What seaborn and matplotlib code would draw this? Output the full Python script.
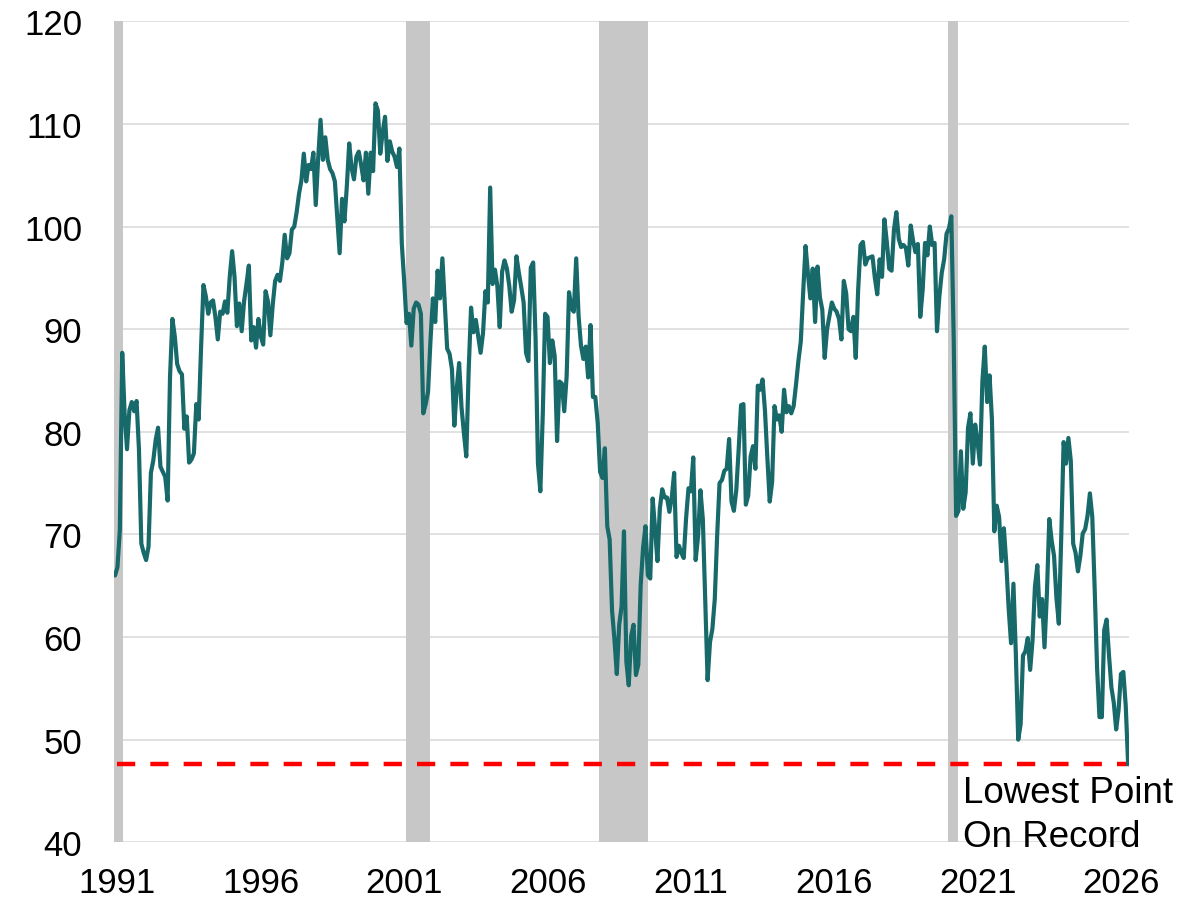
import numpy as np
import pandas as pd
import matplotlib
matplotlib.use("Agg")
import matplotlib.pyplot as plt
import seaborn as sns

# Monthly index, first month = Dec 1990
start_year, start_month = 1990, 12

sentiment_1990s = [
    66.0,
    66.8, 70.4, 87.7, 81.8, 78.3, 82.1, 82.9, 82.0, 83.0, 78.3, 69.1, 68.2,
    67.5, 68.8, 76.0, 77.2, 79.2, 80.4, 76.6, 76.1, 75.6, 73.3, 85.3, 91.0,
    89.3, 86.6, 85.9, 85.6, 80.3, 81.5, 77.0, 77.3, 77.9, 82.7, 81.2, 88.2,
    94.3, 93.2, 91.5, 92.6, 92.8, 91.2, 89.0, 91.7, 91.5, 92.7, 91.6, 95.1,
    97.6, 95.1, 90.3, 92.5, 89.8, 92.7, 94.4, 96.2, 88.9, 90.2, 88.2, 91.0,
    89.3, 88.5, 93.7, 92.7, 89.4, 92.4, 94.7, 95.3, 94.7, 96.5, 99.2, 96.9,
    97.4, 99.7, 100.0, 101.4, 103.2, 104.5, 107.1, 104.4, 106.0, 105.6, 107.2, 102.1,
    106.6, 110.4, 106.5, 108.7, 106.5, 105.6, 105.2, 104.4, 100.9, 97.4, 102.7, 100.5,
    103.9, 108.1, 105.7, 104.6, 106.8, 107.3, 106.0, 104.5, 107.2, 103.2, 107.2, 105.4,
]
sentiment_2000s = [
    112.0, 111.3, 107.1, 109.2, 110.7, 106.4, 108.3, 107.3, 106.8, 105.8, 107.6, 98.4,
    94.7, 90.6, 91.5, 88.4, 92.0, 92.6, 92.4, 91.5, 81.8, 82.7, 83.9, 88.8,
    93.0, 90.7, 95.7, 93.0, 96.9, 92.4, 88.1, 87.6, 86.1, 80.6, 84.2, 86.7,
    82.4, 79.9, 77.6, 86.0, 92.1, 89.7, 90.9, 89.3, 87.7, 89.6, 93.7, 92.6,
    103.8, 94.4, 95.8, 94.2, 90.2, 95.6, 96.7, 95.9, 94.2, 91.7, 92.8, 97.1,
    95.5, 94.1, 92.6, 87.7, 86.9, 96.0, 96.5, 89.1, 76.9, 74.2, 81.6, 91.5,
    91.2, 86.7, 88.9, 87.4, 79.1, 84.9, 84.7, 82.0, 85.4, 93.6, 92.1, 91.7,
    96.9, 91.3, 88.4, 87.1, 88.3, 85.3, 90.4, 83.4, 83.4, 80.9, 76.1, 75.5,
    78.4, 70.8, 69.5, 62.6, 59.8, 56.4, 61.2, 63.0, 70.3, 57.6, 55.3, 60.1,
    61.2, 56.3, 57.3, 65.1, 68.7, 70.8, 66.0, 65.7, 73.5, 70.6, 67.4, 72.5,
]
sentiment_2010s = [
    74.4, 73.6, 73.6, 72.2, 73.6, 76.0, 67.8, 68.9, 68.2, 67.7, 71.6, 74.5,
    74.2, 77.5, 67.5, 69.8, 74.3, 71.5, 63.7, 55.8, 59.5, 60.8, 63.7, 69.9,
    75.0, 75.3, 76.2, 76.4, 79.3, 73.2, 72.3, 74.3, 78.3, 82.6, 82.7, 72.9,
    73.8, 77.6, 78.6, 76.4, 84.5, 84.1, 85.1, 82.1, 77.5, 73.2, 75.1, 82.5,
    81.2, 81.6, 80.0, 84.1, 81.9, 82.5, 81.8, 82.5, 84.6, 86.9, 88.8, 93.6,
    98.1, 95.4, 93.0, 95.9, 90.7, 96.1, 93.1, 91.9, 87.2, 90.0, 91.3, 92.6,
    92.0, 91.7, 91.0, 89.0, 94.7, 93.5, 90.0, 89.8, 91.2, 87.2, 93.8, 98.2,
    98.5, 96.3, 96.9, 97.0, 97.1, 95.0, 93.4, 96.8, 95.1, 100.7, 98.5, 95.9,
    95.7, 99.7, 101.4, 98.8, 98.0, 98.2, 97.9, 96.2, 100.1, 98.6, 97.5, 98.3,
    91.2, 93.8, 98.4, 97.2, 100.0, 98.2, 98.4, 89.8, 93.2, 95.5, 96.8, 99.3,
]
sentiment_2020s = [
    99.8, 101.0, 89.1, 71.8, 72.3, 78.1, 72.5, 74.1, 80.4, 81.8, 76.9, 80.7,
    79.0, 76.8, 84.9, 88.3, 82.9, 85.5, 81.2, 70.3, 72.8, 71.7, 67.4, 70.6,
    67.2, 62.8, 59.4, 65.2, 58.4, 50.0, 51.5, 58.2, 58.6, 59.9, 56.8, 59.7,
    64.9, 67.0, 62.0, 63.7, 59.0, 64.2, 71.5, 69.4, 67.9, 63.8, 61.3, 69.7,
    79.0, 76.9, 79.4, 77.2, 69.1, 68.2, 66.4, 67.9, 70.1, 70.5, 71.8, 74.0,
    71.7, 64.7, 57.0, 52.2, 52.2, 60.7, 61.7, 58.2, 55.1, 53.6, 51.0, 52.9,
    56.4, 56.6, 53.3, 47.6,
]

# Recession shading periods (fractional years)
recession_starts = [1990.55, 2001.06, 2007.80, 2019.96]
recession_ends = [1991.21, 2001.91, 2009.50, 2020.31]

x_tick_years = [1991, 1996, 2001, 2006, 2011, 2016, 2021, 2026]
y_ticks = [40, 50, 60, 70, 80, 90, 100, 110, 120]
annotation_text = "Lowest Point\nOn Record"

values = sentiment_1990s + sentiment_2000s + sentiment_2010s + sentiment_2020s
n = len(values)
years = start_year + (start_month - 1) / 12 + np.arange(n) / 12
df = pd.DataFrame({"year": years, "value": values})
lowest = min(values)

sns.set_theme(style="white")
plt.rcParams["font.family"] = ["Liberation Sans", "DejaVu Sans"]

fig = plt.figure(figsize=(12.04, 9.04), dpi=100)
ax = fig.add_axes([114 / 1204, 1 - 843.3 / 904, (1128.7 - 114) / 1204, (843.3 - 22.3) / 904])

ax.set_xlim(1990.88, 2026.27)
ax.set_ylim(40, 120)

ax.set_axisbelow(True)
ax.yaxis.grid(True, color="#d9d9d9", linewidth=1.1, zorder=0)
ax.xaxis.grid(False)

for s, e in zip(recession_starts, recession_ends):
    ax.axvspan(s, e, color="#c7c7c7", lw=0, zorder=1)

ax.plot([years[0] + 1 / 12, years[-1] - 0.05], [lowest, lowest], color="#ff0000",
        lw=3.2, dashes=(4.1, 3.4), zorder=2.5)

sns.lineplot(data=df, x="year", y="value", ax=ax, color="#18696a", lw=3.0,
             zorder=3, solid_joinstyle="round", solid_capstyle="round")

ax.text(2020.48, 46.6, annotation_text, ha="left", va="top", fontsize=26.5,
        color="black", linespacing=1.34, zorder=4)

for sp in ax.spines.values():
    sp.set_visible(False)

ax.set_xticks(x_tick_years)
ax.set_xticklabels([str(y) for y in x_tick_years])
ax.set_yticks(y_ticks)
ax.set_yticklabels([str(v) for v in y_ticks])
ax.tick_params(axis="x", length=0, pad=17, labelsize=25, labelcolor="black")
ax.tick_params(axis="y", length=0, pad=23, labelsize=25, labelcolor="black")
ax.set_xlabel("")
ax.set_ylabel("")

fig.savefig("out.png", dpi=100, facecolor="white")
